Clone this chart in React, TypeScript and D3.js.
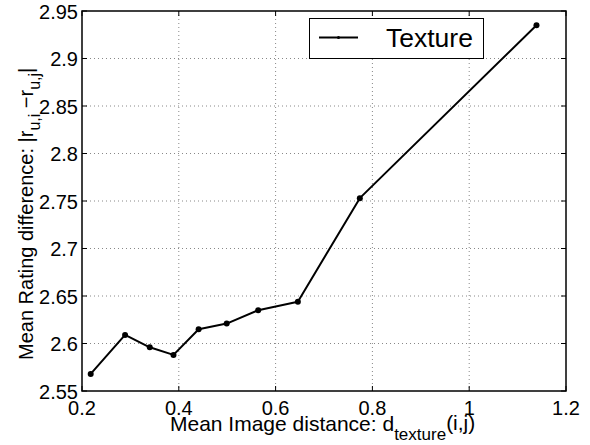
import { useEffect, useRef } from "react";
import * as d3 from "d3";

const xValues = [0.218, 0.289, 0.34, 0.389, 0.441, 0.499, 0.564, 0.646, 0.774, 1.139];
const yValues = [2.568, 2.609, 2.596, 2.588, 2.615, 2.621, 2.635, 2.644, 2.753, 2.935];
const xTicks = [0.2, 0.4, 0.6, 0.8, 1, 1.2];
const yTicks = [2.55, 2.6, 2.65, 2.7, 2.75, 2.8, 2.85, 2.9, 2.95];
const seriesName = "Texture";

const App = () => {
  const svgRef = useRef<SVGSVGElement>(null);

  useEffect(() => {
    const svg = d3.select(svgRef.current);
    svg.selectAll("*").remove();

    const font = "'Liberation Sans', Arial, Helvetica, sans-serif";
    const left = 82, right = 566, top = 11, bottom = 391;

    const x = d3.scaleLinear().domain([0.2, 1.2]).range([left, right]);
    const y = d3.scaleLinear().domain([2.55, 2.95]).range([bottom, top]);

    svg.append("rect").attr("width", 590).attr("height", 445).attr("fill", "#fff");

    // grid
    const grid = svg.append("g").attr("stroke", "#888").attr("stroke-width", 1)
      .attr("stroke-dasharray", "1,3");
    xTicks.slice(1, -1).forEach((t) => {
      grid.append("line").attr("x1", x(t)).attr("x2", x(t)).attr("y1", top).attr("y2", bottom);
    });
    yTicks.slice(1, -1).forEach((t) => {
      grid.append("line").attr("x1", left).attr("x2", right).attr("y1", y(t)).attr("y2", y(t));
    });

    // ticks on all sides
    const tk = svg.append("g").attr("stroke", "#000").attr("stroke-width", 1);
    xTicks.forEach((t) => {
      tk.append("line").attr("x1", x(t)).attr("x2", x(t)).attr("y1", bottom).attr("y2", bottom - 5);
      tk.append("line").attr("x1", x(t)).attr("x2", x(t)).attr("y1", top).attr("y2", top + 5);
    });
    yTicks.forEach((t) => {
      tk.append("line").attr("x1", left).attr("x2", left + 5).attr("y1", y(t)).attr("y2", y(t));
      tk.append("line").attr("x1", right).attr("x2", right - 5).attr("y1", y(t)).attr("y2", y(t));
    });

    // box
    svg.append("rect")
      .attr("x", left).attr("y", top)
      .attr("width", right - left).attr("height", bottom - top)
      .attr("fill", "none").attr("stroke", "#000").attr("stroke-width", 1.5);

    // tick labels
    svg.append("g").selectAll("text").data(xTicks).enter().append("text")
      .attr("x", (d) => x(d)).attr("y", bottom + 24)
      .attr("text-anchor", "middle")
      .style("font-family", font).style("font-size", "20px")
      .text((d) => String(d));

    svg.append("g").selectAll("text").data(yTicks).enter().append("text")
      .attr("x", left - 4).attr("y", (d) => y(d) + 7.5)
      .attr("text-anchor", "end")
      .style("font-family", font).style("font-size", "20px")
      .text((d) => String(d));

    // line
    const pts = xValues.map((v, i) => [v, yValues[i]] as [number, number]);
    const line = d3.line<[number, number]>().x((d) => x(d[0])).y((d) => y(d[1]));
    svg.append("path").datum(pts)
      .attr("d", line)
      .attr("fill", "none").attr("stroke", "#000").attr("stroke-width", 2)
      .attr("stroke-linejoin", "round");
    svg.append("g").selectAll("circle").data(pts).enter().append("circle")
      .attr("cx", (d) => x(d[0])).attr("cy", (d) => y(d[1]))
      .attr("r", 3).attr("fill", "#000");

    // legend
    const lg = svg.append("g");
    lg.append("rect").attr("x", 309.5).attr("y", 18.5).attr("width", 174).attr("height", 40)
      .attr("fill", "#fff").attr("stroke", "#000").attr("stroke-width", 1);
    lg.append("line").attr("x1", 319).attr("x2", 358).attr("y1", 37.5).attr("y2", 37.5)
      .attr("stroke", "#000").attr("stroke-width", 2);
    lg.append("circle").attr("cx", 338.5).attr("cy", 37.5).attr("r", 1.5).attr("fill", "#000");
    lg.append("text").attr("x", 386).attr("y", 46.5)
      .style("font-family", font).style("font-size", "26.5px")
      .text(seriesName);

    // x label
    const xl = svg.append("text").attr("x", 170).attr("y", 431)
      .style("font-family", font).style("font-size", "21px");
    xl.append("tspan").text("Mean Image distance: d");
    xl.append("tspan").attr("dy", 9).style("font-size", "17px").text("texture");
    xl.append("tspan").attr("dy", -10).text("(i,j)");

    // y label
    const yl = svg.append("text")
      .attr("transform", "translate(33,360) rotate(-90)")
      .style("font-family", font).style("font-size", "20px");
    yl.append("tspan").text("Mean Rating difference: |r");
    yl.append("tspan").attr("dy", 7).style("font-size", "16px").text("u,i");
    yl.append("tspan").attr("dy", -7).text(" \u2212r");
    yl.append("tspan").attr("dy", 7).style("font-size", "16px").text("u,j");
    yl.append("tspan").attr("dy", -7).text("|");
  }, []);

  return <svg ref={svgRef} width={590} height={445} style={{ display: "block", position: "absolute", left: 0, top: 0 }} />;
};

export default App;
